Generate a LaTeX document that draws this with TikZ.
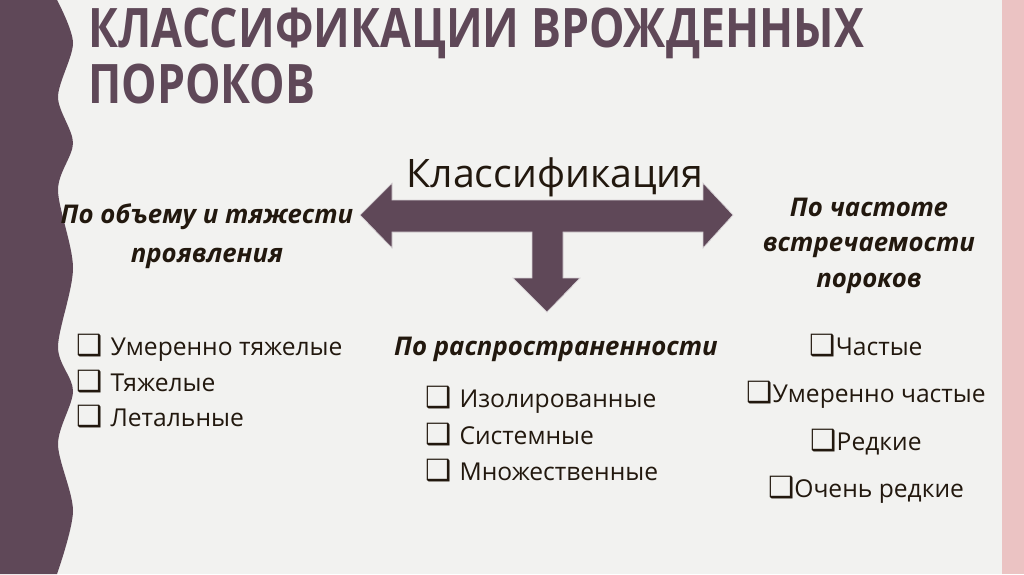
\documentclass[tikz,border=0pt]{standalone}
\usepackage{fontspec}
\usepackage{graphicx}
\setmainfont{Open Sans}
\newfontfamily\symfont{DejaVu Sans}
\definecolor{plum}{HTML}{5F4858}
\definecolor{pagebg}{HTML}{F2F2F0}
\definecolor{rosestrip}{HTML}{EBC3C3}
\definecolor{ink}{HTML}{22180E}
\newcommand{\chk}{{\symfont\fontsize{25}{25}\selectfont\char"2751}}
\begin{document}
\begin{tikzpicture}[x=0.03cm, y=-0.03cm,
  heading/.style={font=\fontsize{22}{33}\selectfont\bfseries\itshape,
                  text=ink, align=center, anchor=base},
  item/.style={font=\fontsize{21}{25}\selectfont, text=ink, anchor=base west},
  freq/.style={font=\fontsize{21}{25}\selectfont, text=ink, anchor=base}
]
  \useasboundingbox (0,0) rectangle (1024,574);
  \fill[pagebg] (0,0) rectangle (1024,574);
  \fill[rosestrip] (1002,0) rectangle (1024,574);
  % wavy band on the left
  \fill[plum] (0,0) -- plot[smooth] coordinates {(57,0) (73,43) (58,97) (73,143)
      (58,190) (73,268) (58,347) (73,391) (58,444) (73,511) (57,574)} -- (0,574) -- cycle;

  \node[anchor=base west, text=plum, align=left, inner sep=0,
        font=\fontsize{46.5}{47.6}\selectfont\bfseries] (title) at (88,103)
        {\scalebox{0.82}[1]{КЛАССИФИКАЦИИ ВРОЖДЕННЫХ}\\
         \scalebox{0.82}[1]{ПОРОКОВ}};

  % three-way arrow
  \filldraw[fill=plum, draw=white!75!plum, line width=0.6pt]
    (360,215) -- (392,183) -- (392,200) -- (703,200) -- (703,183) -- (733,215)
    -- (703,248) -- (703,232) -- (563,232) -- (563,278) -- (580,278) -- (547,312)
    -- (513,278) -- (532,278) -- (532,232) -- (392,232) -- (392,248) -- cycle;
  \node[anchor=base, text=ink, font=\fontsize{33.5}{36}\selectfont] (klass) at (555,187)
        {Классификация};

  \node[heading] (volume) at (207,262) {По объему и тяжести\\проявления};
  \node[heading] (spread) at (556,355) {По распространенности};
  \node[heading, font=\fontsize{22}{30}\selectfont\bfseries\itshape]
        (rate) at (869,287) {По частоте\\встречаемости\\пороков};

  \node[item] (v1) at (72,355) {\chk\hspace{7pt}Умеренно тяжелые};
  \node[item] (v2) at (72,391) {\chk\hspace{7pt}Тяжелые};
  \node[item] (v3) at (72,426) {\chk\hspace{7pt}Летальные};

  \node[item] (s1) at (421,407) {\chk\hspace{7pt}Изолированные};
  \node[item] (s2) at (421,444) {\chk\hspace{7pt}Системные};
  \node[item] (s3) at (421,480) {\chk\hspace{7pt}Множественные};

  \node[freq] (r1) at (866,355) {\chk Частые};
  \node[freq] (r2) at (866,402) {\chk Умеренно частые};
  \node[freq] (r3) at (866,450) {\chk Редкие};
  \node[freq] (r4) at (866,497) {\chk Очень редкие};
\end{tikzpicture}
\end{document}
